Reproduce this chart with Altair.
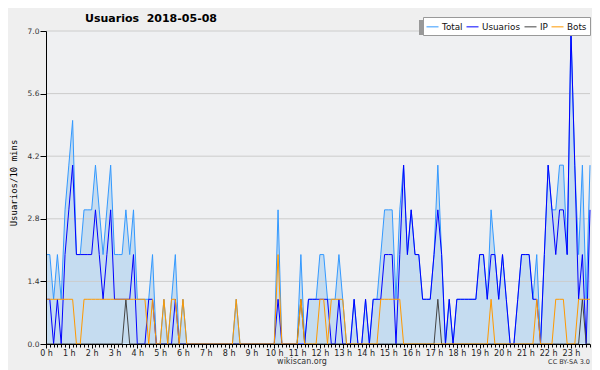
import altair as alt
import pandas as pd

# ---- data (10-minute intervals, 0:00 .. 23:50) ----
usuarios = [1,1,0,1,0,2,3,4,2,2, 2,2,2,3,2,1,2,3,1,1,
            1,1,1,2,0,0,0,1,1,0, 0,0,0,0,1,0,0,0,0,0,
            0,0,0,0,0,0,0,0,0,0, 0,0,0,0,0,0,0,0,0,0,
            0,1,0,0,0,0,0,0,0,1, 1,1,1,1,1,0,0,1,0,0,
            0,1,0,0,1,0,1,1,1,2, 2,2,0,2,4,2,3,2,2,1,
            1,1,2,3,2,0,1,0,1,1, 1,1,1,1,2,2,1,2,2,1,
            2,1,0,0,1,2,2,2,1,1, 0,2,4,3,2,3,3,2,7,4,
            1,2,0,3]
bots = [1,1,1,1,1,1,1,1,0,0, 1,1,1,1,1,1,1,1,1,1,
        1,1,1,1,1,1,1,0,1,0, 0,1,0,1,1,0,1,0,0,0,
        0,0,0,0,0,0,0,0,0,0, 1,0,0,0,0,0,0,0,0,0,
        0,2,0,0,0,0,0,1,0,0, 0,0,1,1,0,1,1,1,1,0,
        0,0,0,0,0,0,0,0,1,1, 1,1,1,1,0,0,0,0,0,0,
        0,0,0,0,0,0,0,0,0,0, 0,0,0,0,0,0,0,1,0,0,
        0,0,0,0,0,0,0,0,0,1, 0,0,0,0,1,1,1,0,0,0,
        1,1,1,1]
ip = [0,0,0,0,0,0,0,0,0,0, 0,0,0,0,0,0,0,0,0,0,
      0,1,0,0,0,0,0,0,0,0, 0,0,0,0,0,0,0,0,0,0,
      0,0,0,0,0,0,0,0,0,0, 0,0,0,0,0,0,0,0,0,0,
      0,0,0,0,0,0,0,1,0,0, 0,0,0,0,0,0,0,0,0,0,
      0,0,0,0,0,0,0,0,0,0, 0,0,0,0,0,0,0,0,0,0,
      0,0,0,1,0,0,0,0,0,0, 0,0,0,0,0,0,0,0,0,0,
      0,0,0,0,0,0,0,0,0,0, 0,0,0,0,0,0,0,0,0,0,
      0,1,0,0]
total = [2,2,1,2,1,3,4,5,2,2, 3,3,3,4,3,2,3,4,2,2,
         2,3,2,3,1,1,1,1,2,0, 0,1,0,1,2,0,1,0,0,0,
         0,0,0,0,0,0,0,0,0,0, 1,0,0,0,0,0,0,0,0,0,
         0,3,0,0,0,0,0,2,0,1, 1,1,2,2,1,1,1,2,1,0,
         0,1,0,0,1,0,1,1,2,3, 3,3,1,3,4,2,3,2,2,1,
         1,1,2,4,2,0,1,0,1,1, 1,1,1,1,2,2,1,3,2,1,
         2,1,0,0,1,2,2,2,1,2, 0,2,4,3,3,4,4,2,7,4,
         2,4,1,4]

series_names = ["Total", "Usuarios", "IP", "Bots"]
series_colors = ["#3399ff", "#0000ff", "#444444", "#ff9900"]
hours = [i / 6 for i in range(len(total))]
y_tick_values = [round(k * 0.35, 2) for k in range(21)]
grid_values = [1.4, 2.8, 4.2, 5.6, 7.0]

title_text = ["Usuarios\u00a0\u00a02018-05-08"]
y_title_text = ["Usuarios/10 mins"]
site_text = ["wikiscan.org"]
license_text = ["CC BY-SA 3.0"]

rows = []
for name, vals in zip(series_names, [total, usuarios, ip, bots]):
    for h, v in zip(hours, vals):
        rows.append({"h": h, "v": v, "serie": name})
long_df = pd.DataFrame(rows)
wide_df = pd.DataFrame({"h": hours, "v": total})
grid_df = pd.DataFrame({"g": grid_values})
one = pd.DataFrame({"k": [0]})

xscale = alt.Scale(domain=[0, hours[-1]], nice=False, zero=False)
yscale = alt.Scale(domain=[0, 7], nice=False)

is_hour = "abs(datum.value - round(datum.value)) < 0.001"
is_major_y = "abs(datum.value / 1.4 - round(datum.value / 1.4)) < 0.001"

xenc = alt.X(
    "h:Q", scale=xscale, title=None,
    axis=alt.Axis(
        values=hours, labelExpr=f"{is_hour} ? round(datum.value) + ' h' : ''",
        tickSize={"condition": {"test": is_hour, "value": 4}, "value": 3},
        tickColor="#000", domainColor="#000", labelColor="#222",
        labelFont="DejaVu Sans", labelFontSize=8, labelPadding=1,
        labelOverlap=False, labelFlush=False, grid=False, zindex=1,
    ),
)
yenc = alt.Y(
    "v:Q", scale=yscale, title=None,
    axis=alt.Axis(
        values=y_tick_values,
        labelExpr=f"{is_major_y} ? format(datum.value, '.1f') : ''",
        tickSize={"condition": {"test": is_major_y, "value": 6}, "value": 3},
        tickColor="#000", domainColor="#000", labelColor="#333",
        labelFont="DejaVu Sans", labelFontSize=7.5, labelPadding=1,
        labelOverlap=False, grid=False, zindex=1,
    ),
)

area = alt.Chart(wide_df).mark_area(color="#c5dcf0", opacity=1).encode(x=xenc, y=yenc)

grid = alt.Chart(grid_df).mark_rule(color="#cccccc", strokeWidth=1).encode(
    y=alt.Y("g:Q", scale=yscale)
)

color = alt.Color(
    "serie:N",
    scale=alt.Scale(domain=series_names, range=series_colors),
    legend=alt.Legend(
        title=None, orient="none", legendX=377, legendY=-14,
        direction="horizontal", symbolType="stroke", symbolSize=144,
        symbolStrokeWidth=1, labelFont="DejaVu Sans", labelFontSize=8.8,
        labelColor="#111", labelOffset=3, columnPadding=1, padding=3,
        fillColor="#ffffff", strokeColor="#999999",
    ),
)

lines = []
for name in series_names:
    lines.append(
        alt.Chart(long_df).transform_filter(alt.datum.serie == name)
        .mark_line(strokeWidth=1).encode(x=xenc, y=yenc, color=color)
    )

shadow = alt.Chart(one).mark_rect(color="#999999").encode(
    x=alt.value(373), x2=alt.value(542), y=alt.value(-11), y2=alt.value(4)
)

title = alt.Chart(pd.DataFrame({"t": title_text})).mark_text(
    font="DejaVu Sans", fontSize=11, fontWeight="bold", color="#000",
    align="center", baseline="alphabetic"
).encode(text="t:N", x=alt.value(105), y=alt.value(-9))

ytitle = alt.Chart(pd.DataFrame({"t": y_title_text})).mark_text(
    font="DejaVu Sans Mono", fontSize=9, color="#000", angle=270,
    align="center", baseline="middle"
).encode(text="t:N", x=alt.value(-32), y=alt.value(152))

site = alt.Chart(pd.DataFrame({"t": site_text})).mark_text(
    font="DejaVu Sans", fontSize=8, color="#333", align="center", baseline="alphabetic"
).encode(text="t:N", x=alt.value(256), y=alt.value(333))

lic = alt.Chart(pd.DataFrame({"t": license_text})).mark_text(
    font="DejaVu Sans", fontSize=6.5, color="#333", align="right", baseline="alphabetic"
).encode(text="t:N", x=alt.value(544), y=alt.value(333))

chart = alt.layer(area, grid, *lines, shadow, title, ytitle, site, lic).properties(
    width=544, height=313,
    autosize=alt.AutoSizeParams(type="none"),
    padding={"left": 38, "top": 23, "right": 2, "bottom": 26},
    background="#efefef",
).configure_view(strokeWidth=0, fill="#eff0f2")

chart.save("out.html", embed_options={"renderer": "svg", "actions": False})
